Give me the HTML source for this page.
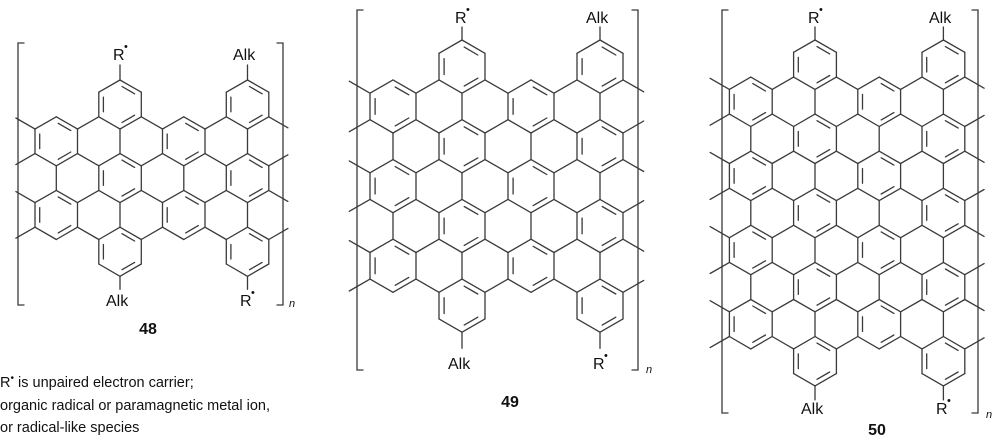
<!DOCTYPE html>
<html><head><meta charset="utf-8"><style>
html,body{margin:0;padding:0;background:#fff;}
svg{display:block;}
text{font-family:"Liberation Sans",Arial,sans-serif;fill:#111;}
</style></head><body>
<svg id="s" width="999" height="439" viewBox="0 0 999 439" xmlns="http://www.w3.org/2000/svg">
<g id="g" stroke="#3a3a3a" stroke-width="1.3" fill="none" stroke-linecap="round"></g>
<g font-size="16">
<text x="113" y="60">R</text><text x="124" y="50" font-size="11">•</text>
<text x="233" y="60">Alk</text>
<text x="106" y="306">Alk</text>
<text x="240" y="306">R</text><text x="251" y="296" font-size="11">•</text>
<text x="289" y="307" font-size="11" font-style="italic">n</text>
<text x="148" y="334" font-weight="bold" text-anchor="middle">48</text>

<text x="455" y="23">R</text><text x="466" y="13" font-size="11">•</text>
<text x="586" y="23">Alk</text>
<text x="448" y="369">Alk</text>
<text x="593" y="369">R</text><text x="604" y="359" font-size="11">•</text>
<text x="646" y="373" font-size="11" font-style="italic">n</text>
<text x="510" y="407" font-weight="bold" text-anchor="middle">49</text>

<text x="808" y="23">R</text><text x="819" y="13" font-size="11">•</text>
<text x="929" y="23">Alk</text>
<text x="801" y="414">Alk</text>
<text x="936" y="414">R</text><text x="947" y="404" font-size="11">•</text>
<text x="986" y="418" font-size="11" font-style="italic">n</text>
<text x="877" y="435" font-weight="bold" text-anchor="middle">50</text>
</g>
<g font-size="14.5">
<text x="0" y="387">R<tspan font-size="10" dy="-6">•</tspan><tspan dy="6"> is unpaired electron carrier;</tspan></text>
<text x="0" y="410">organic radical or paramagnetic metal ion,</text>
<text x="0" y="432">or radical-like species</text>
</g>
</svg>
<script>
(function(){
var g=document.getElementById('g');var out='';
function L(a,b,c,d){out+='<line x1="'+a.toFixed(1)+'" y1="'+b.toFixed(1)+'" x2="'+c.toFixed(1)+'" y2="'+d.toFixed(1)+'"/>';}
function bracket(x1,x2,y1,y2){var t=6;
out+='<polyline points="'+(x1+t)+','+y1+' '+x1+','+y1+' '+x1+','+y2+' '+(x1+t)+','+y2+'"/>';
out+='<polyline points="'+(x2-t)+','+y1+' '+x2+','+y1+' '+x2+','+y2+' '+(x2-t)+','+y2+'"/>';}
function struct(c0,y0,w,N,topSub,botSub){
 var s=w/Math.sqrt(3),rh=1.5*s;var rings=[];
 for(var r=0;r<N;r++){var cy=y0+r*rh;
  if(r==0||r==N-1){rings.push([c0,cy,r]);rings.push([c0+3*w,cy,r]);}
  else if(r%2==1){for(var k=0;k<5;k++)rings.push([c0-1.5*w+k*w,cy,r]);}
  else{for(var k=0;k<5;k++)rings.push([c0-w+k*w,cy,r]);}}
 var off=[[0,-s],[w/2,-s/2],[w/2,s/2],[0,s],[-w/2,s/2],[-w/2,-s/2]];
 var edges={},verts={};
 function key(x,y){return Math.round(x)+','+Math.round(y);}
 rings.forEach(function(R){
  var pts=off.map(function(o){return [R[0]+o[0],R[1]+o[1]];});
  for(var i=0;i<6;i++){var a=pts[i],b=pts[(i+1)%6];var ka=key(a[0],a[1]),kb=key(b[0],b[1]);
   var ek=ka<kb?ka+'|'+kb:kb+'|'+ka;
   if(!edges[ek]){edges[ek]=1;L(a[0],a[1],b[0],b[1]);
    [[ka,a,b],[kb,b,a]].forEach(function(v){if(!verts[v[0]])verts[v[0]]={p:v[1],n:[]};verts[v[0]].n.push(v[2]);});}}
  var u=Math.round((R[0]-(c0-1.5*w))/(w/2));
  var aro=(R[2]%2==1&&u%6==0)||(R[2]%2==0&&u%6==3);
  if(aro){for(var i=0;i<6;i+=2){var a=pts[i],b=pts[(i+1)%6];
    var f=0.78;var ax=R[0]+(a[0]-R[0])*f,ay=R[1]+(a[1]-R[1])*f,bx=R[0]+(b[0]-R[0])*f,by=R[1]+(b[1]-R[1])*f;
    var m=0.12;L(ax+(bx-ax)*m,ay+(by-ay)*m,bx-(bx-ax)*m,by-(by-ay)*m);}}
 });
 var minX=1e9,maxX=-1e9;for(var k in verts){minX=Math.min(minX,verts[k].p[0]);maxX=Math.max(maxX,verts[k].p[0]);}
 var yA=y0+rh-s-1,yB=y0+(N-2)*rh+s+1;
 for(var k in verts){var v=verts[k];if(v.n.length!=2)continue;var p=v.p;
  var dx=0,dy=0;v.n.forEach(function(q){var ex=q[0]-p[0],ey=q[1]-p[1],l=Math.hypot(ex,ey);dx-=ex/l;dy-=ey/l;});
  var l=Math.hypot(dx,dy);dx/=l;dy/=l;
  if(Math.abs(dx)<0.5)continue;
  if(!(Math.abs(p[0]-minX)<2||Math.abs(p[0]-maxX)<2))continue;
  if(p[1]<yA||p[1]>yB)continue;
  L(p[0],p[1],p[0]+dx*s*0.9,p[1]+dy*s*0.9);}
 // substituent bonds
 [c0,c0+3*w].forEach(function(x){L(x,y0-s,x,y0-s-topSub);var yb=y0+(N-1)*rh+s;L(x,yb,x,yb+botSub);});
}
struct(120,104.5,42.5,5,15,13);
bracket(18,283,43,305);
struct(462,66.6,46,7,13,16);
bracket(357,638,10,370);
struct(815,64.7,42.8,9,13,14);
bracket(722,978,10,413);
g.innerHTML=out;
})();
</script>
</body></html>
